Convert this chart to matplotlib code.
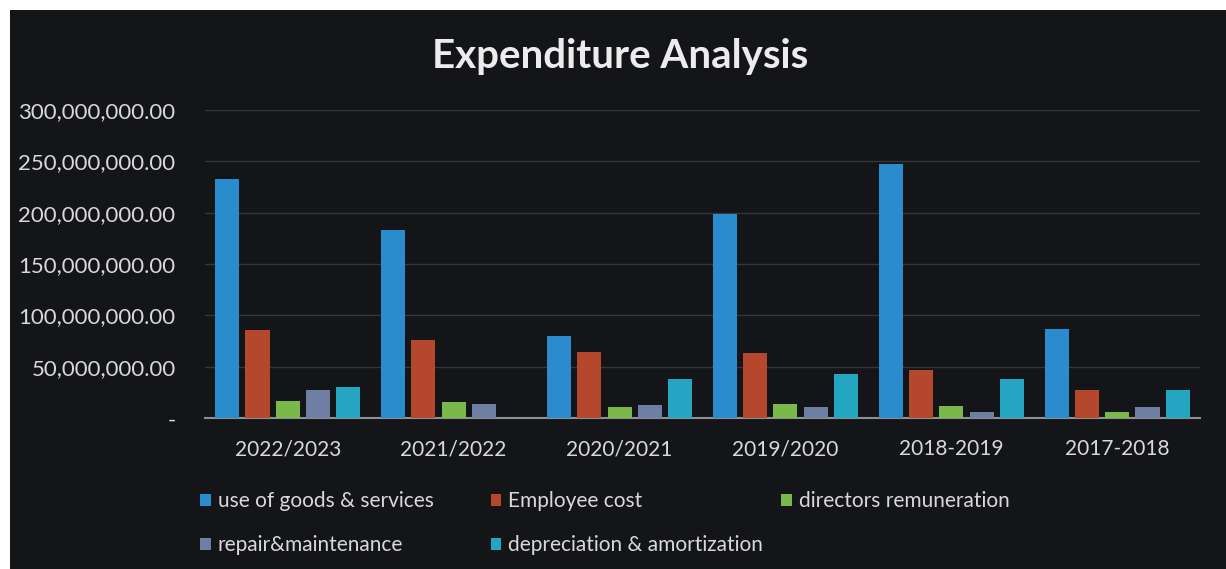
import numpy as np
import matplotlib.pyplot as plt
from matplotlib.patches import Rectangle, Patch
from matplotlib.ticker import FuncFormatter

years = ["2022/2023", "2021/2022", "2020/2021", "2019/2020", "2018-2019", "2017-2018"]
series_names = ["use of goods & services", "Employee cost", "directors remuneration",
                "repair&maintenance", "depreciation & amortization"]

# values in millions
goods_services = [233, 183, 80, 199, 247, 87]
employee_cost = [86, 76, 64, 63, 47, 27]
directors_rem = [17, 16, 11, 14, 12, 6]
repair_maint = [27, 14, 13, 11, 6, 11]
depreciation = [30, 0, 38, 43, 38, 27]

series = [goods_services, employee_cost, directors_rem, repair_maint, depreciation]
colors = ["#2a8ccc", "#b4472c", "#7bb84a", "#6f7ea3", "#24a6c2"]

bg = "#141518"
txt = "#d9d9d9"
font = "Lato"

fig = plt.figure(figsize=(12.26, 5.69), dpi=100, facecolor="white")
# dark chart panel (photo has a thin white border top/left)
fig.patches.append(Rectangle((10 / 1226, 0), 1 - 10 / 1226, 1 - 10 / 569,
                             transform=fig.transFigure, facecolor=bg,
                             edgecolor="none", zorder=-5))

ax = fig.add_axes([0.167, 0.265, 0.812, 0.542])
ax.set_zorder(2)
ax.patch.set_alpha(0)

x = np.arange(len(years))
pitch = 0.182
width = 0.145
for i, (vals, c) in enumerate(zip(series, colors)):
    offs = (i - 2) * pitch
    ax.bar(x + offs, np.array(vals) * 1e6, width=width, color=c, zorder=3)

ax.set_xlim(-0.5, len(years) - 0.5)
ax.set_ylim(0, 300e6)
ax.set_yticks(np.arange(0, 300e6 + 1, 50e6))
ax.yaxis.set_major_formatter(FuncFormatter(lambda v, p: "-" if v == 0 else f"{v:,.2f}"))
ax.set_xticks(x)
ax.set_xticklabels(years)
ax.tick_params(axis="both", length=0, colors=txt)
ax.tick_params(axis="y", pad=21, labelsize=16)
ax.tick_params(axis="x", pad=15, labelsize=15)
for lab in ax.get_xticklabels() + ax.get_yticklabels():
    lab.set_fontfamily(font)

ax.grid(axis="y", color="#33363b", linewidth=1, zorder=0)
for s in ["top", "right", "left"]:
    ax.spines[s].set_visible(False)
ax.spines["bottom"].set_color("#8d8f92")
ax.spines["bottom"].set_linewidth(1.5)

fig.text(0.506, 0.9, "Expenditure Analysis", ha="center", va="center",
         color="#ececec", fontsize=29, fontweight="bold", family=font)

# legend laid out row by row like the original
handles = [Patch(facecolor=c, edgecolor="none") for c in colors]
cols = [([0, 3], 0.148), ([1, 4], 0.385), ([2], 0.622)]
for idx, xpos in cols:
    leg = fig.legend([handles[k] for k in idx], [series_names[k] for k in idx],
                     loc="upper left", bbox_to_anchor=(xpos, 0.17), frameon=False,
                     handlelength=0.5, handleheight=0.5, handletextpad=0.35,
                     labelspacing=1.15, prop={"family": font, "size": 15})
    for t in leg.get_texts():
        t.set_color(txt)

fig.savefig("out.png", dpi=100, facecolor=fig.get_facecolor())
